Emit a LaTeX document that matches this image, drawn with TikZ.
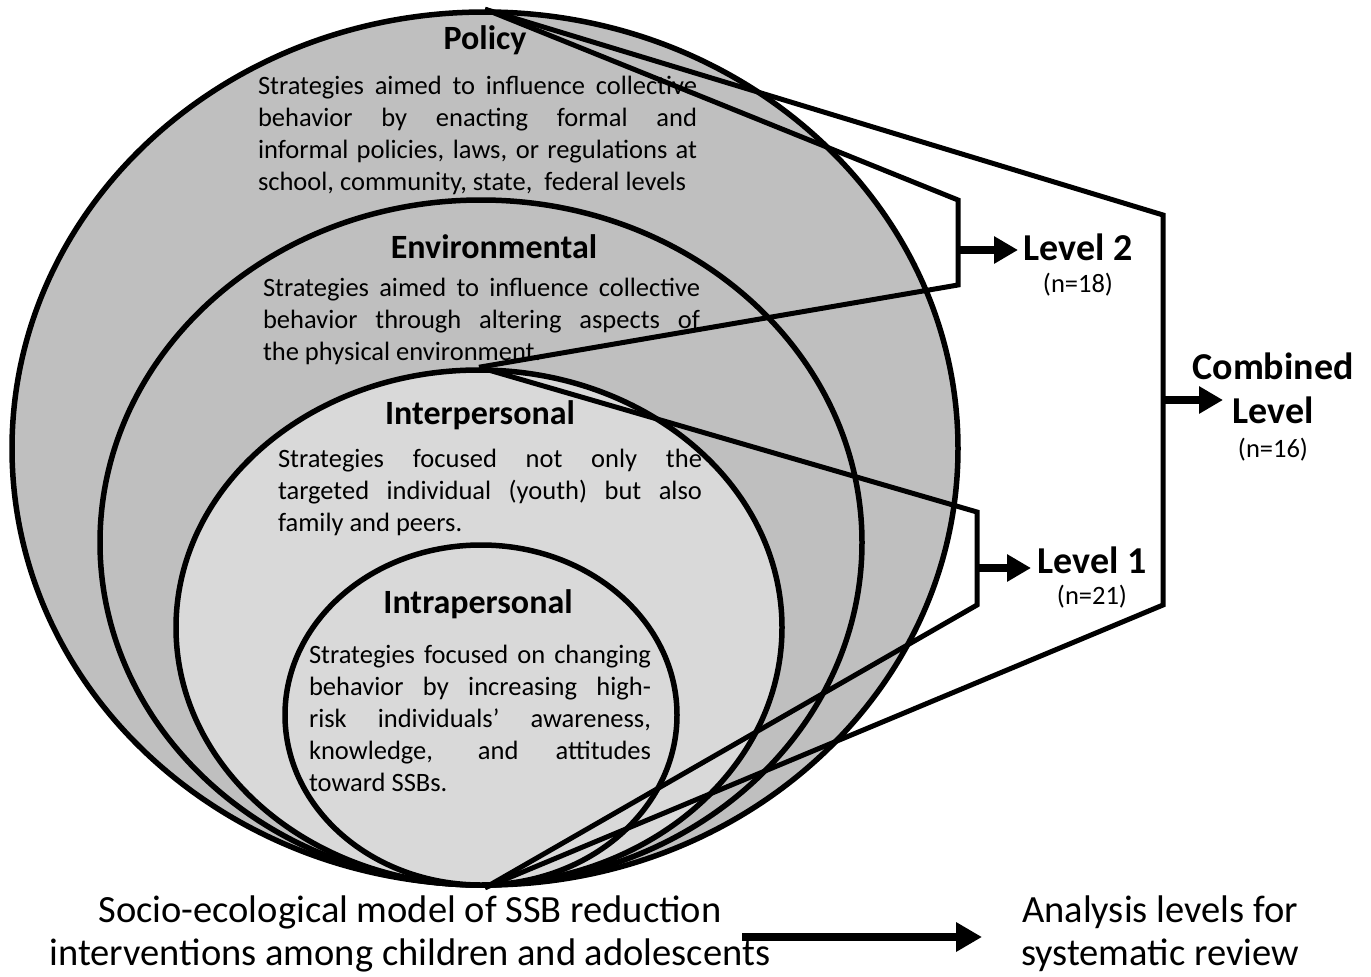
\documentclass[tikz,border=0pt]{standalone}
\usepackage{fontspec}
\setmainfont{Carlito}
\usetikzlibrary{shapes.geometric,arrows.meta}
\definecolor{darkfill}{HTML}{BFBFBF}
\definecolor{lightfill}{HTML}{D9D9D9}
\tikzset{
  ring/.style={ellipse, draw=black, line width=5.5pt, inner sep=0pt},
  conn/.style={line width=5pt, line join=miter},
  arr/.style={line width=8pt, -{Triangle[length=24pt,width=26pt]}},
  bigarr/.style={line width=8pt, -{Triangle[length=26pt,width=28pt]}},
  ttl/.style={font=\fontsize{34}{40}\selectfont\bfseries, inner sep=0pt},
  lvl/.style={font=\fontsize{38}{44}\selectfont\bfseries, inner sep=0pt},
  body/.style={font=\fontsize{26.5}{32}\selectfont, align=justify, inner sep=0pt, anchor=north},
  small/.style={font=\fontsize{26.5}{30}\selectfont, inner sep=0pt},
  captext/.style={font=\fontsize{38.5}{43}\selectfont, align=center, inner sep=0pt}
}
\begin{document}
\begin{tikzpicture}[x=1pt,y=-1pt]
\useasboundingbox (0,0) rectangle (1371,977);
% ellipses
\node[ring, fill=darkfill, minimum width=946pt, minimum height=873pt] (policy) at (485,448.5) {};
\node[ring, fill=darkfill, minimum width=762pt, minimum height=685pt] (env) at (481,542.5) {};
\node[ring, fill=lightfill, minimum width=606pt, minimum height=515pt] (interp) at (479,627.5) {};
\node[ring, fill=lightfill, minimum width=392pt, minimum height=340pt] (intra) at (481,715) {};
% titles and texts
\node[ttl] (tpol) at (485,40) {Policy};
\node[body, text width=439pt] (bpol) at (477.5,76) {Strategies aimed to influence collective\linebreak behavior by enacting formal and\linebreak informal policies, laws, or regulations at\linebreak school, community, state,\ \ federal levels};
\node[ttl] (tenv) at (494,247) {Environmental};
\node[body, text width=437pt] (benv) at (481.5,278) {Strategies aimed to influence collective\linebreak behavior through altering aspects of\linebreak the physical environment.};
\node[ttl] (tint) at (480,415) {Interpersonal};
\node[body, text width=424pt] (bint) at (490,449) {Strategies focused not only the\linebreak targeted individual (youth) but also\linebreak family and peers.};
\node[ttl] (tintra) at (478,604) {Intrapersonal};
\node[body, text width=342pt] (bintra) at (480,645) {Strategies focused on changing\linebreak behavior by increasing high-\linebreak risk individuals' awareness,\linebreak knowledge, and attitudes\linebreak toward SSBs.};
% brackets
\coordinate (l2t) at (958,200);
\coordinate (l2b) at (958,285);
\coordinate (l1t) at (977,512);
\coordinate (l1b) at (977,605);
\coordinate (ct) at (1163,215);
\coordinate (cb) at (1163,605);
\draw[conn] (policy.north) -- (l2t) -- (l2b) -- (interp.north);
\draw[conn] (interp.north) -- (l1t) -- (l1b) -- (policy.south);
\draw[conn] (policy.north) -- (ct) -- (cb) -- (policy.south);
% level labels
\node[lvl] (lv2) at (1078,247) {Level 2};
\node[small] (n2) at (1078,285) {(n=18)};
\node[lvl] (lv1) at (1092,560) {Level 1};
\node[small] (n1) at (1092,597) {(n=21)};
\node[lvl, align=center] (comb) at (1273,388) {Combined\\Level};
\node[small] (nc) at (1273,450) {(n=16)};
\coordinate (a2) at (958,250);
\coordinate (a2e) at (1018,250);
\coordinate (a1) at (977,568);
\coordinate (a1e) at (1031,568);
\coordinate (ac) at (1163,400);
\coordinate (ace) at (1223,400);
\draw[arr] (a2) -- (a2e);
\draw[arr] (a1) -- (a1e);
\draw[arr] (ac) -- (ace);
% captions
\node[captext] (capl) at (410,934) {Socio-ecological model of SSB reduction\\interventions among children and adolescents};
\node[captext] (capr) at (1160,934) {Analysis levels for\\systematic review};
\coordinate (bs) at (742,937);
\coordinate (be) at (982,937);
\draw[bigarr] (bs) -- (be);
\end{tikzpicture}
\end{document}
